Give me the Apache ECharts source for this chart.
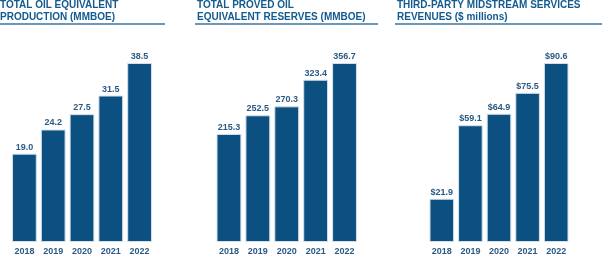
<!DOCTYPE html>
<html>
<head>
<meta charset="utf-8">
<script src="https://cdn.jsdelivr.net/npm/echarts@6/dist/echarts.min.js"></script>
<style>
  html, body { margin: 0; padding: 0; background: #fff; }
  #main { width: 602px; height: 256px; }
</style>
</head>
<body>
<div id="main"></div>
<script>
// data
var years = ['2018', '2019', '2020', '2021', '2022'];
var production = [19.0, 24.2, 27.5, 31.5, 38.5];
var reserves = [215.3, 252.5, 270.3, 323.4, 356.7];
var midstream = [21.9, 59.1, 64.9, 75.5, 90.6];

var titles = [
    'TOTAL OIL EQUIVALENT\nPRODUCTION (MMBOE)',
    'TOTAL PROVED OIL\nEQUIVALENT RESERVES (MMBOE)',
    'THIRD-PARTY MIDSTREAM SERVICES\nREVENUES ($ millions)'
];

var barColor = '#0b5080';
var textColor = '#2b5a84';
var titleColor = '#135a8f';
var font = '"Liberation Sans", Arial, sans-serif';

var chart = echarts.init(document.getElementById('main'));

var grids = [
    {left: 10, top: 63, width: 144, height: 180},
    {left: 214.5, top: 63, width: 144.5, height: 180},
    {left: 427.5, top: 63, width: 143, height: 180}
];

var xAxes = [], yAxes = [], series = [];
var allData = [production, reserves, midstream];
allData.forEach(function (d, i) {
    xAxes.push({
        type: 'category',
        gridIndex: i,
        data: years,
        axisLine: {show: false},
        axisTick: {show: false},
        axisLabel: {
            margin: 5,
            fontSize: 9,
            fontWeight: 'bold',
            fontFamily: font,
            color: textColor
        }
    });
    yAxes.push({
        type: 'value',
        gridIndex: i,
        min: 0,
        max: 'dataMax',
        show: false,
        splitLine: {show: false}
    });
    series.push({
        type: 'bar',
        xAxisIndex: i,
        yAxisIndex: i,
        data: d,
        barCategoryGap: '14%',
        itemStyle: {color: barColor, borderColor: '#d3e0ea', borderWidth: 1},
        label: {
            show: true,
            position: 'top',
            distance: 2,
            fontSize: 9,
            fontWeight: 'bold',
            fontFamily: font,
            color: textColor,
            formatter: function (p) {
                return (i == 2 ? '$' : '') + p.value.toFixed(1);
            }
        }
    });
});

// titles and underlines
var titleX = [0, 197, 397];
var lineSpans = [[0, 165], [195, 378], [395, 602]];
var graphics = [];
titles.forEach(function (t, i) {
    graphics.push({
        type: 'text',
        left: titleX[i],
        top: -1,
        style: {
            text: t,
            font: 'bold 10px ' + font,
            lineHeight: 12,
            fill: titleColor
        }
    });
    graphics.push({
        type: 'line',
        shape: {x1: lineSpans[i][0], y1: 24, x2: lineSpans[i][1], y2: 24},
        style: {stroke: '#3a74a4', lineWidth: 1.5}
    });
});

var option = {
    animation: false,
    grid: grids,
    xAxis: xAxes,
    yAxis: yAxes,
    series: series,
    graphic: graphics
};

chart.setOption(option);
</script>
</body>
</html>
